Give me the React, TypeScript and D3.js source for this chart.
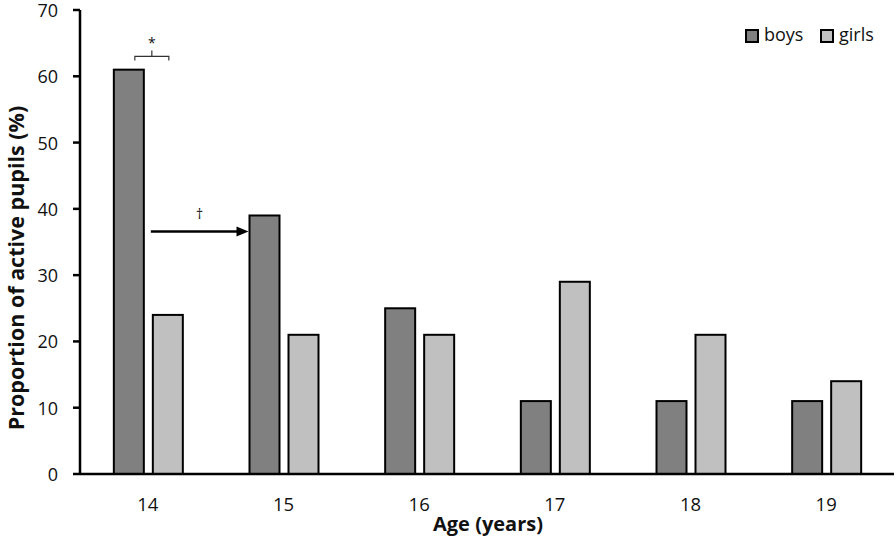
import React from "react";
import * as d3 from "d3";

const ages = ["14", "15", "16", "17", "18", "19"];
const boys = [61, 39, 25, 11, 11, 11];
const girls = [24, 21, 21, 29, 21, 14];
const yTicks = [0, 10, 20, 30, 40, 50, 60, 70];
const seriesNames = ["boys", "girls"];
const seriesColors = ["#808080", "#c0c0c0"];

const W = 896;
const H = 538;
const FONT = "'Open Sans', 'Noto Sans', sans-serif";

export default function App() {
  const x = d3.scaleBand<string>().domain(ages).range([80, 894]);
  const y = d3.scaleLinear().domain([0, 70]).range([474, 10]);
  const bw = 30;
  const c = (a: string) => (x(a) as number) + x.bandwidth() / 2;
  const boysX = (a: string) => c(a) - 34;
  const girlsX = (a: string) => c(a) + 5;

  // annotation geometry from scales
  const brX1 = c("14") - 13;
  const brX2 = c("14") + 21;
  const brMid = (brX1 + brX2) / 2;
  const brY = y(63);
  const arrowY = y(36.6);
  const arrowX1 = c("14") + 3;
  const arrowX2 = boysX("15") - 1;

  return (
    <svg width={W} height={H} style={{ position: "absolute", left: 0, top: 0, background: "#fff" }}>
      <rect x={0} y={0} width={W} height={H} fill="#fff" />
      {/* bars */}
      {ages.map((a, i) => (
        <g key={a}>
          <rect x={boysX(a)} y={y(boys[i])} width={bw} height={y(0) - y(boys[i])} fill={seriesColors[0]} stroke="#000" strokeWidth={2} />
          <rect x={girlsX(a)} y={y(girls[i])} width={bw} height={y(0) - y(girls[i])} fill={seriesColors[1]} stroke="#000" strokeWidth={2} />
        </g>
      ))}
      {/* y axis */}
      <line x1={80} x2={80} y1={y(70)} y2={y(0)} stroke="#000" strokeWidth={2.5} />
      {yTicks.map((t) => (
        <g key={t}>
          <line x1={73} x2={80} y1={y(t)} y2={y(t)} stroke="#000" strokeWidth={2.5} />
          <text x={58} y={y(t) + 7} textAnchor="end" fontFamily={FONT} fontSize={18} fill="#111">
            {t}
          </text>
        </g>
      ))}
      {/* x axis */}
      <line x1={80} x2={894} y1={y(0)} y2={y(0)} stroke="#000" strokeWidth={2.5} />
      {ages.map((a) => (
        <text key={a} x={c(a)} y={511} textAnchor="middle" fontFamily={FONT} fontSize={18.5} fill="#111">
          {a}
        </text>
      ))}
      {/* axis titles */}
      <text x={488} y={531} textAnchor="middle" fontFamily={FONT} fontSize={20} fontWeight="bold" fill="#111">
        Age (years)
      </text>
      <text transform={`translate(24, 268) rotate(-90)`} textAnchor="middle" fontFamily={FONT} fontSize={21.5} fontWeight="bold" fill="#111">
        Proportion of active pupils (%)
      </text>
      {/* legend */}
      {seriesNames.map((s, i) => {
        const lx = 746 + i * 75;
        return (
          <g key={s}>
            <rect x={lx} y={30} width={12} height={12} fill={seriesColors[i]} stroke="#000" strokeWidth={2} />
            <text x={lx + 18} y={41} fontFamily={FONT} fontSize={18} fill="#111">
              {s}
            </text>
          </g>
        );
      })}
      {/* significance bracket */}
      <path d={`M${brX1},${brY + 4} L${brX1},${brY} L${brX2},${brY} L${brX2},${brY + 4} M${brMid},${brY} L${brMid},${brY - 6}`} fill="none" stroke="#333" strokeWidth={1.2} />
      <text x={brMid} y={brY - 8} textAnchor="middle" fontFamily={FONT} fontSize={14} fill="#111">
        *
      </text>
      {/* arrow */}
      <line x1={arrowX1} x2={arrowX2 - 10} y1={arrowY} y2={arrowY} stroke="#000" strokeWidth={2.5} />
      <path d={`M${arrowX2},${arrowY} L${arrowX2 - 12},${arrowY - 5} L${arrowX2 - 12},${arrowY + 5} Z`} fill="#000" />
      <text x={(arrowX1 + arrowX2) / 2} y={arrowY - 12} textAnchor="middle" fontFamily={FONT} fontSize={14} fill="#111">
        †
      </text>
    </svg>
  );
}
